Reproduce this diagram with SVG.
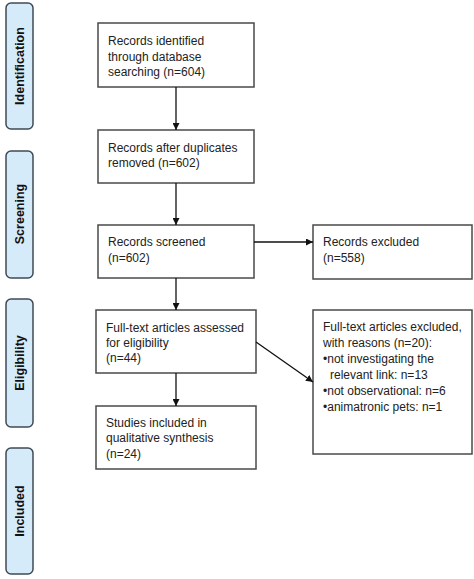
<svg xmlns="http://www.w3.org/2000/svg" width="474" height="579" viewBox="0 0 474 579">
<defs>
<marker id="ah" viewBox="0 0 10 10" refX="10" refY="5" markerWidth="7" markerHeight="7" orient="auto" markerUnits="userSpaceOnUse">
<path d="M0,0 L10,5 L0,10 z" fill="#111"/>
</marker>
<style>
.box{fill:#fff;stroke:#4a4a4a;stroke-width:1.5}
.side{fill:#d6ebfa;stroke:#3f4a55;stroke-width:1.5}
.t{font-family:"Liberation Sans",Arial,sans-serif;font-size:12px;fill:#222}
.s{font-family:"Liberation Sans",Arial,sans-serif;font-size:12.5px;font-weight:bold;fill:#111;text-anchor:middle}
.c{stroke:#111;stroke-width:1.3;fill:none;marker-end:url(#ah)}
</style>
</defs>
<rect width="474" height="579" fill="#fff"/>
<g id="side-identification"><rect class="side" x="6" y="3" width="27" height="126" rx="5"/><text class="s" transform="translate(24,66) rotate(-90)">Identification</text></g>
<g id="side-screening"><rect class="side" x="6" y="151" width="27" height="127" rx="5"/><text class="s" transform="translate(24,214) rotate(-90)">Screening</text></g>
<g id="side-eligibility"><rect class="side" x="6" y="299" width="27" height="128" rx="5"/><text class="s" transform="translate(24,363) rotate(-90)">Eligibility</text></g>
<g id="side-included"><rect class="side" x="6" y="448" width="27" height="126" rx="5"/><text class="s" transform="translate(24,511) rotate(-90)">Included</text></g>

<g id="n1"><rect class="box" x="98" y="23" width="156" height="64"/>
<text class="t" x="108" y="45">Records identified</text>
<text class="t" x="108" y="61">through database</text>
<text class="t" x="108" y="76">searching (n=604)</text></g>
<g id="n2"><rect class="box" x="98" y="130" width="156" height="53"/>
<text class="t" x="108" y="152">Records after duplicates</text>
<text class="t" x="108" y="167">removed (n=602)</text></g>
<g id="n3"><rect class="box" x="98" y="225" width="156" height="53"/>
<text class="t" x="108" y="246">Records screened</text>
<text class="t" x="108" y="262">(n=602)</text></g>
<g id="n4"><rect class="box" x="96" y="310" width="160" height="63"/>
<text class="t" x="106" y="332">Full-text articles assessed</text>
<text class="t" x="106" y="347">for eligibility</text>
<text class="t" x="106" y="362">(n=44)</text></g>
<g id="n5"><rect class="box" x="96" y="406" width="160" height="63"/>
<text class="t" x="106" y="427">Studies included in</text>
<text class="t" x="106" y="442">qualitative synthesis</text>
<text class="t" x="106" y="458">(n=24)</text></g>
<g id="n6"><rect class="box" x="313" y="225" width="159" height="54"/>
<text class="t" x="323" y="246">Records excluded</text>
<text class="t" x="323" y="262">(n=558)</text></g>
<g id="n7"><rect class="box" x="313" y="310" width="159" height="144"/>
<text class="t" x="323" y="331">Full-text articles excluded,</text>
<text class="t" x="323" y="347">with reasons (n=20):</text>
<text class="t" x="323" y="363">•not investigating the</text>
<text class="t" x="330" y="379">relevant link: n=13</text>
<text class="t" x="323" y="395">•not observational: n=6</text>
<text class="t" x="323" y="411">•animatronic pets: n=1</text></g>

<g id="connectors">
<line class="c" x1="176" y1="87" x2="176" y2="130"/>
<line class="c" x1="176" y1="183" x2="176" y2="225"/>
<line class="c" x1="176" y1="278" x2="176" y2="310"/>
<line class="c" x1="176" y1="373" x2="176" y2="406"/>
<line class="c" x1="254" y1="242" x2="313" y2="242"/>
<line class="c" x1="256" y1="342" x2="313" y2="382"/>
</g>
</svg>
